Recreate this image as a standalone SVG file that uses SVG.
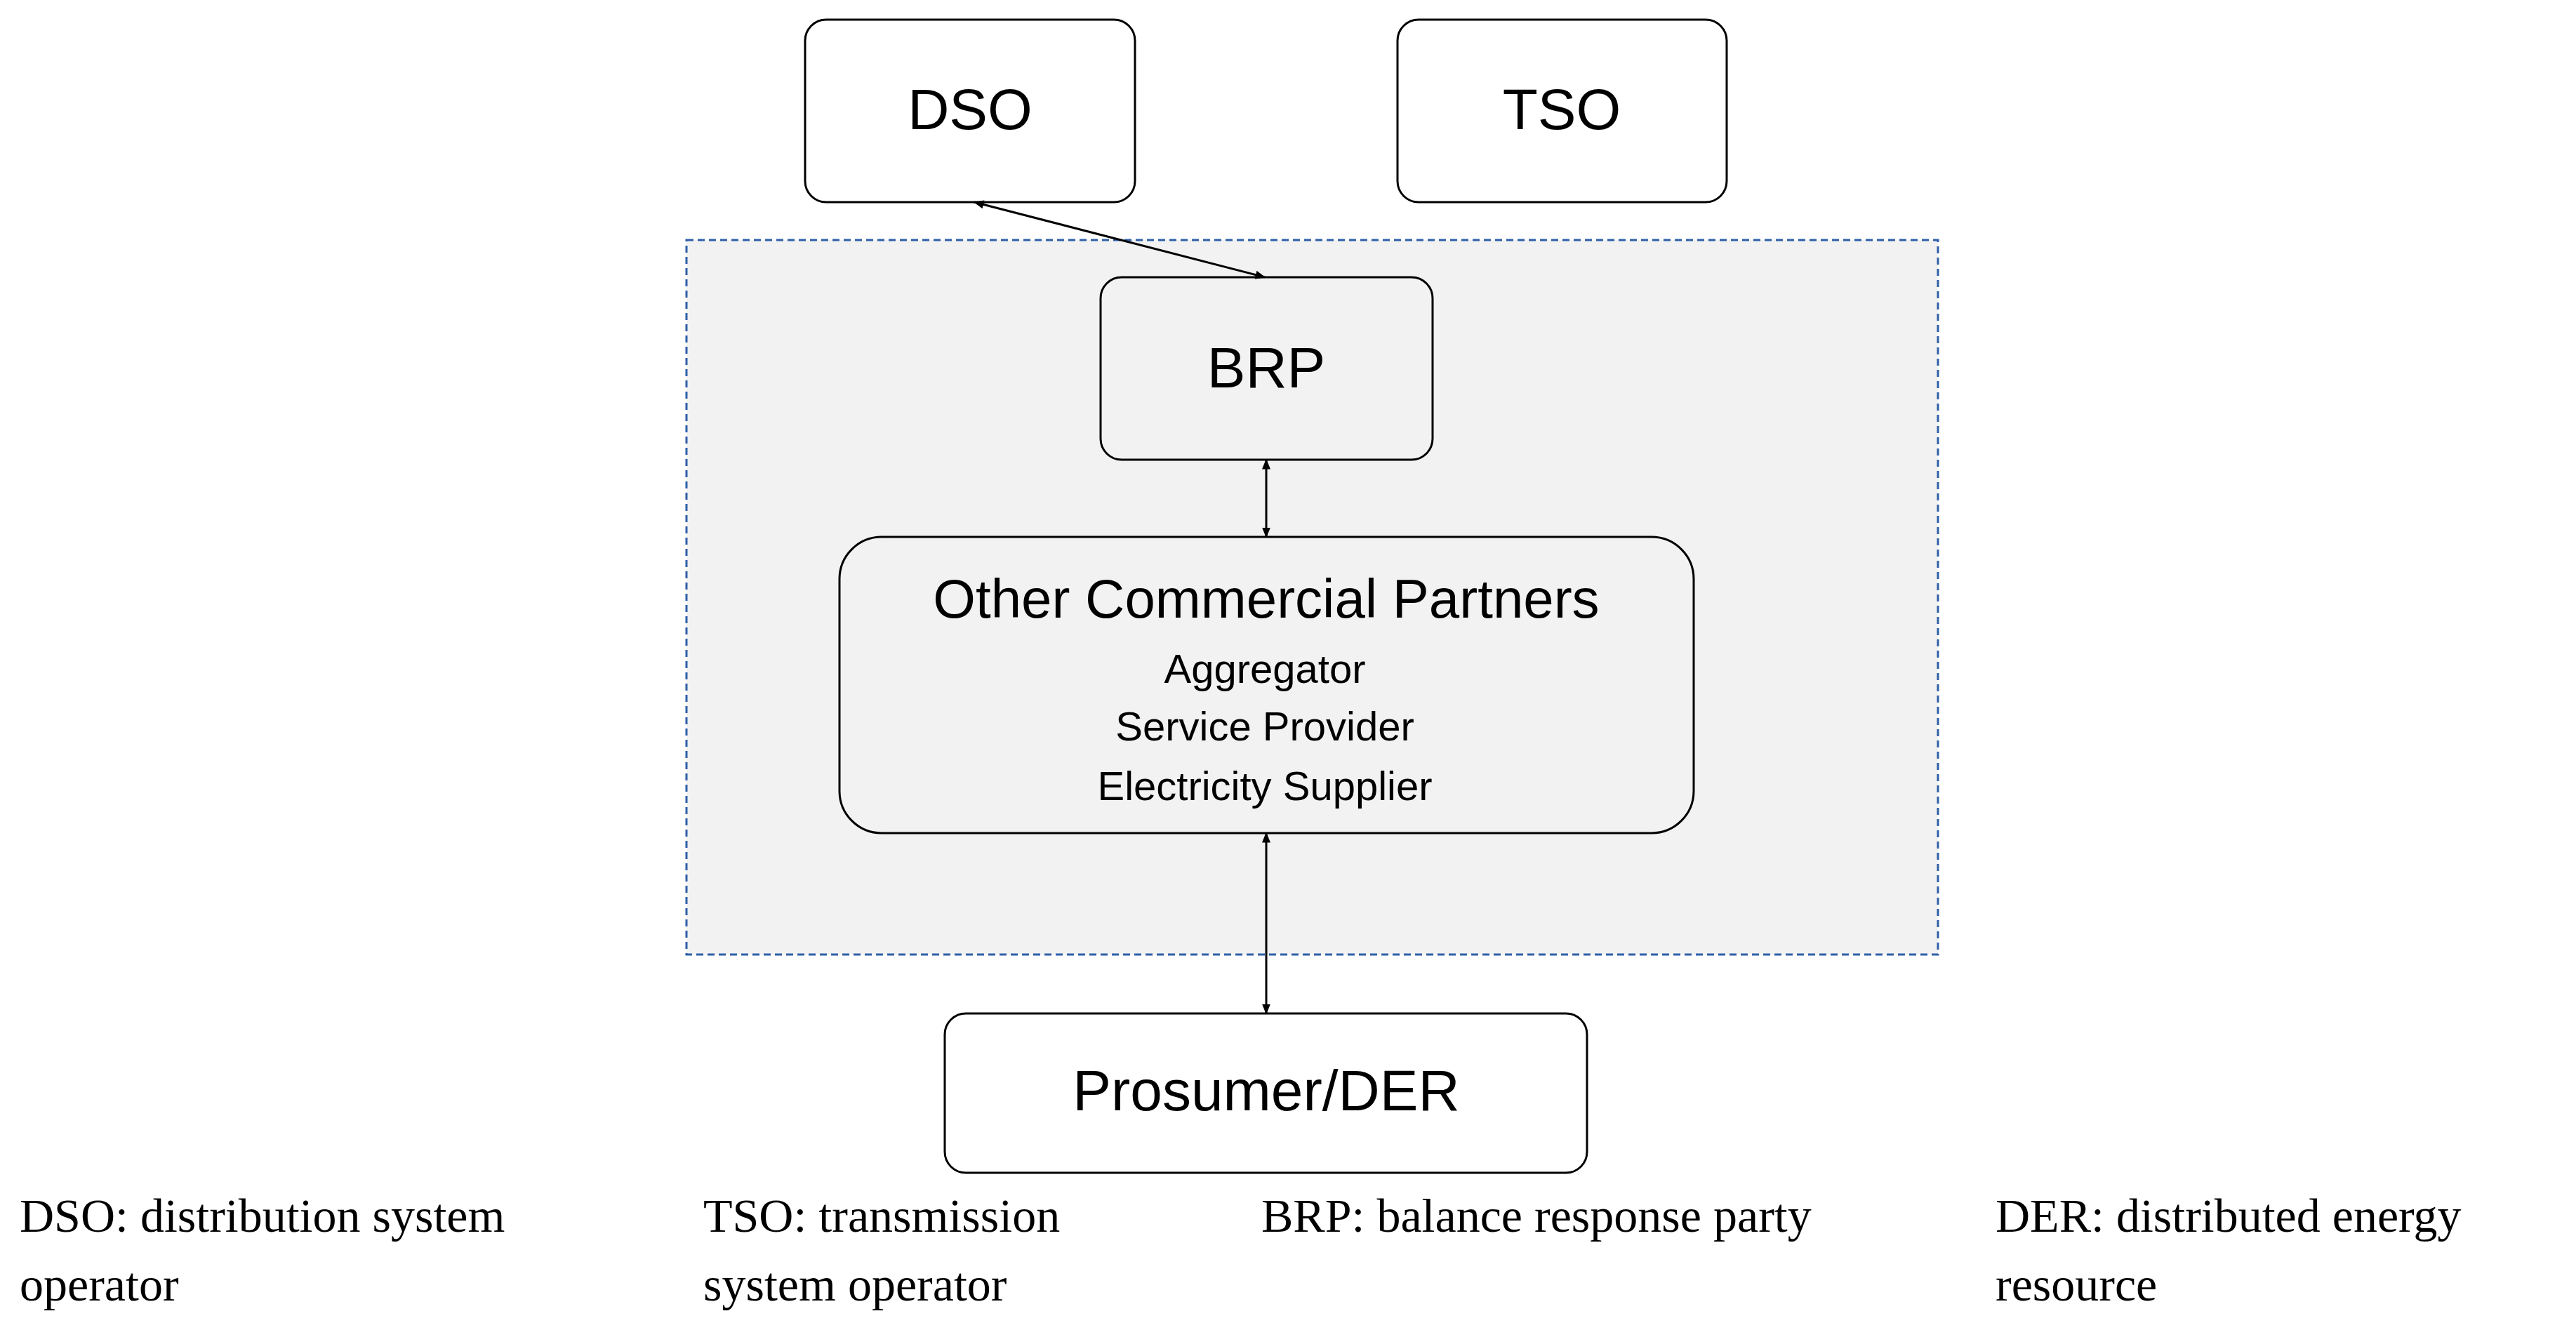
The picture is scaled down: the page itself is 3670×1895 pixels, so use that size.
<svg xmlns="http://www.w3.org/2000/svg" width="3670" height="1895" viewBox="0 0 3670 1895">
<style>
.box{fill:#fff;stroke:#000;stroke-width:3}
.inbox{fill:#f2f2f2;stroke:#000;stroke-width:3}
.t{font-family:"Liberation Sans",Arial,sans-serif;text-anchor:middle;fill:#000}
.leg{font-family:"Liberation Serif","Times New Roman",serif;font-size:68px;fill:#000}
.c{stroke:#000;stroke-width:3;fill:none;marker-start:url(#a);marker-end:url(#a)}
</style>
<defs><marker id="a" viewBox="0 0 10 10" refX="9" refY="5" markerWidth="5" markerHeight="5" orient="auto-start-reverse"><path d="M0,1L10,5L0,9z" fill="#000"/></marker></defs>
<rect x="978" y="342" width="1783" height="1018" fill="#f2f2f2" stroke="#2e5fa8" stroke-width="3" stroke-dasharray="10,6"/>
<g id="dso"><rect class="box" x="1147" y="28" width="470" height="260" rx="30"/><text class="t" x="1382" y="184" font-size="82">DSO</text></g>
<g id="tso"><rect class="box" x="1991" y="28" width="469" height="260" rx="30"/><text class="t" x="2225" y="184" font-size="82">TSO</text></g>
<g id="brp"><rect class="inbox" x="1568" y="395" width="473" height="260" rx="30"/><text class="t" x="1804" y="552" font-size="82">BRP</text></g>
<g id="other"><rect class="inbox" x="1196" y="765" width="1217" height="422" rx="60"/>
<text class="t" x="1804" y="880" font-size="78">Other Commercial Partners</text>
<text class="t" x="1802" y="973" font-size="58">Aggregator</text>
<text class="t" x="1802" y="1055" font-size="58">Service Provider</text>
<text class="t" x="1802" y="1140" font-size="58">Electricity Supplier</text></g>
<g id="prosumer"><rect class="box" x="1346" y="1444" width="915" height="227" rx="30"/><text class="t" x="1804" y="1582" font-size="82">Prosumer/DER</text></g>
<g id="connectors">
<line class="c" x1="1388" y1="288" x2="1802" y2="395"/>
<line class="c" x1="1804" y1="655" x2="1804" y2="765"/>
<line class="c" x1="1804" y1="1187" x2="1804" y2="1444"/>
</g>
<g id="legend">
<text class="leg" x="28" y="1755">DSO: distribution system</text><text class="leg" x="28" y="1853">operator</text>
<text class="leg" x="1002" y="1755">TSO: transmission</text><text class="leg" x="1002" y="1853">system operator</text>
<text class="leg" x="1797" y="1755">BRP: balance response party</text>
<text class="leg" x="2843" y="1755">DER: distributed energy</text><text class="leg" x="2843" y="1853">resource</text>
</g>
</svg>
